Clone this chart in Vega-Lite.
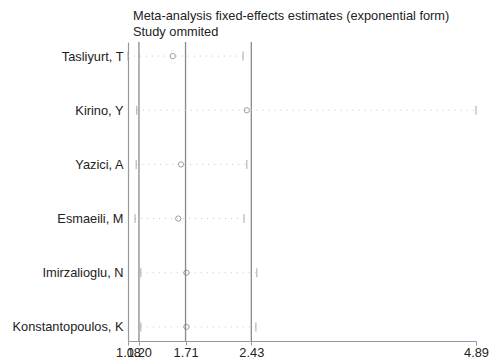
{
  "$schema": "https://vega.github.io/schema/vega-lite/v6.json",
  "width": 348,
  "height": 299,
  "autosize": {"type": "none"},
  "padding": {"left": 128, "top": 42, "right": 13, "bottom": 21},
  "background": "white",
  "title": {
    "text": ["Meta-analysis fixed-effects estimates (exponential form)", "Study ommited"],
    "anchor": "start",
    "frame": "group",
    "dx": 5,
    "offset": 3,
    "font": "Liberation Sans",
    "fontSize": 12.8,
    "fontWeight": "normal",
    "color": "#222",
    "lineHeight": 16
  },
  "config": {
    "view": {"stroke": null},
    "axis": {"grid": false, "labelFont": "Liberation Sans", "titleFont": "Liberation Sans"}
  },
  "data": {
    "values": [
      {"study": "Tasliyurt, T", "est": 1.57, "lo": 1.08, "hi": 2.34},
      {"study": "Kirino, Y", "est": 2.38, "lo": 1.175, "hi": 4.89},
      {"study": "Yazici, A", "est": 1.66, "lo": 1.17, "hi": 2.38},
      {"study": "Esmaeili, M", "est": 1.63, "lo": 1.157, "hi": 2.35},
      {"study": "Imirzalioglu, N", "est": 1.72, "lo": 1.22, "hi": 2.49},
      {"study": "Konstantopoulos, K", "est": 1.72, "lo": 1.22, "hi": 2.48}
    ]
  },
  "layer": [
    {
      "data": {"values": [{"v": 1.20}, {"v": 1.71}, {"v": 2.43}]},
      "mark": {"type": "rule", "color": "#8a8a8a", "strokeWidth": 1.3},
      "encoding": {
        "x": {"field": "v", "type": "quantitative"}
      }
    },
    {
      "mark": {"type": "rule", "color": "#c4c4c4", "strokeWidth": 1, "strokeDash": [1, 5]},
      "encoding": {
        "y": {"field": "study", "type": "nominal", "sort": null},
        "x": {"field": "lo", "type": "quantitative"},
        "x2": {"field": "hi"}
      }
    },
    {
      "mark": {"type": "tick", "orient": "vertical", "color": "#a0a0a0", "size": 9, "thickness": 1.3},
      "encoding": {
        "y": {"field": "study", "type": "nominal", "sort": null},
        "x": {"field": "lo", "type": "quantitative"}
      }
    },
    {
      "mark": {"type": "tick", "orient": "vertical", "color": "#a0a0a0", "size": 9, "thickness": 1.3},
      "encoding": {
        "y": {"field": "study", "type": "nominal", "sort": null},
        "x": {"field": "hi", "type": "quantitative"}
      }
    },
    {
      "mark": {"type": "point", "shape": "circle", "filled": false, "color": "#777", "size": 28, "strokeWidth": 1},
      "encoding": {
        "y": {
          "field": "study",
          "type": "nominal",
          "sort": null,
          "scale": {"type": "point", "padding": 0.26},
          "axis": {
            "title": null,
            "ticks": false,
            "domainColor": "#999",
            "domainWidth": 1.2,
            "labelFontSize": 12.8,
            "labelColor": "#222",
            "labelPadding": 5
          }
        },
        "x": {
          "field": "est",
          "type": "quantitative",
          "scale": {"domain": [1.08, 4.89], "nice": false, "zero": false},
          "axis": {
            "title": null,
            "values": [1.08, 1.20, 1.71, 2.43, 4.89],
            "format": ".2f",
            "labelOverlap": false,
            "labelFlush": false,
            "domainColor": "#999",
            "domainWidth": 1.2,
            "tickColor": "#999",
            "tickSize": 4,
            "labelFontSize": 12.8,
            "labelColor": "#222",
            "labelPadding": 1
          }
        }
      }
    }
  ]
}
